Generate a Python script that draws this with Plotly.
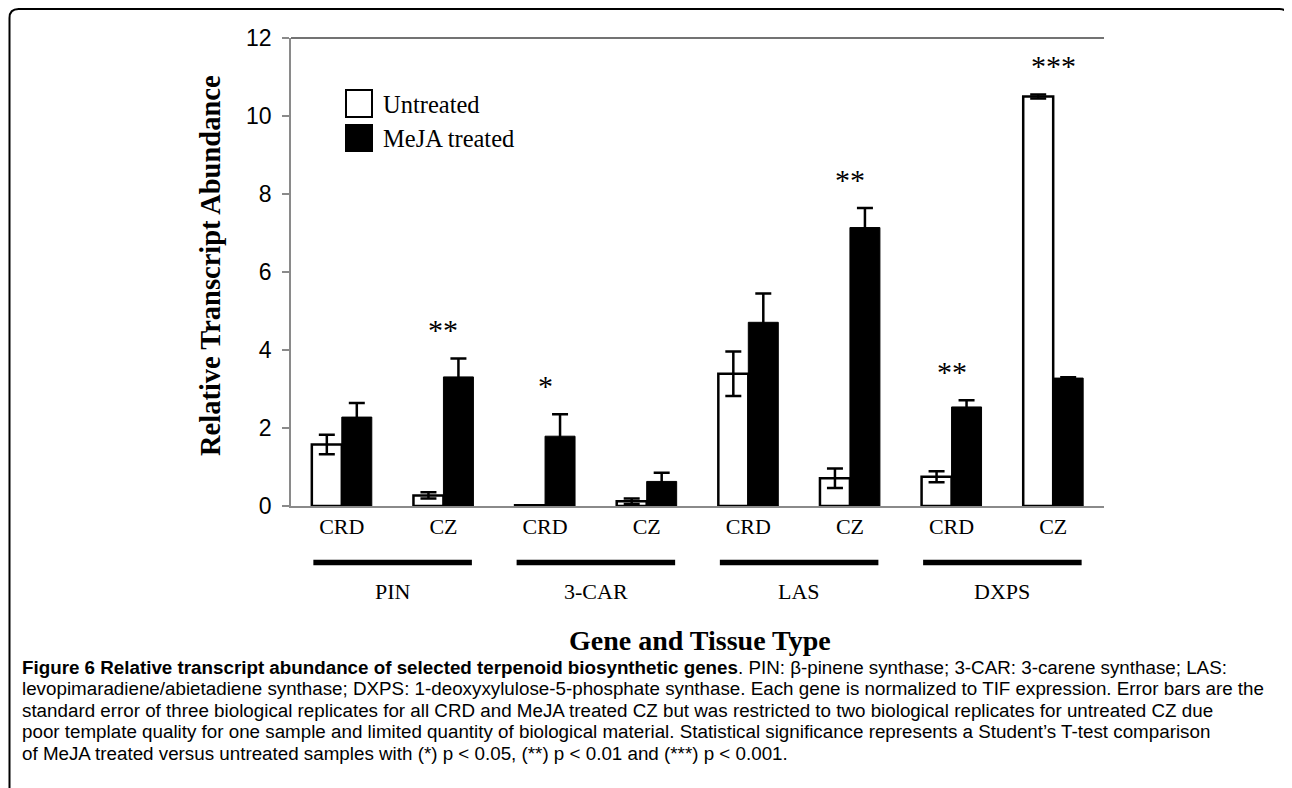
import plotly.graph_objects as go

# ---------------- data ----------------
genes = ["PIN", "3-CAR", "LAS", "DXPS"]
tissues = ["CRD", "CZ"]
untreated = [1.58, 0.27, 0.02, 0.12, 3.39, 0.71, 0.75, 10.50]
untreated_err = [0.25, 0.08, 0.0, 0.07, 0.57, 0.25, 0.14, 0.05]
meja = [2.28, 3.31, 1.79, 0.63, 4.71, 7.14, 2.54, 3.28]
meja_err = [0.36, 0.47, 0.56, 0.22, 0.74, 0.50, 0.17, 0.02]
signif = ["", "**", "*", "", "", "**", "**", "***"]
y_ticks = [0, 2, 4, 6, 8, 10, 12]

categories = [f"{g} {t}" for g in genes for t in tissues]
tick_text = [t for g in genes for t in tissues]

caption_lines = [
    "<b>Figure 6 Relative transcript abundance of selected terpenoid biosynthetic genes</b>. PIN: β-pinene synthase; 3-CAR: 3-carene synthase; LAS:",
    "levopimaradiene/abietadiene synthase; DXPS: 1-deoxyxylulose-5-phosphate synthase. Each gene is normalized to TIF expression. Error bars are the",
    "standard error of three biological replicates for all CRD and MeJA treated CZ but was restricted to two biological replicates for untreated CZ due",
    "poor template quality for one sample and limited quantity of biological material. Statistical significance represents a Student’s T-test comparison",
    "of MeJA treated versus untreated samples with (*) p &lt; 0.05, (**) p &lt; 0.01 and (***) p &lt; 0.001.",
]

# ---------------- layout helpers ----------------
# page offset (browser body margin)
OFF = 8
W, H = 1292, 788
PLOT_LEFT, PLOT_RIGHT, PLOT_TOP, PLOT_BOTTOM = 291, 1104, 38, 506  # page px
L = PLOT_LEFT - OFF
R = W - (PLOT_RIGHT - OFF)
T = PLOT_TOP - OFF
B = H - (PLOT_BOTTOM - OFF)
PW, PH = PLOT_RIGHT - PLOT_LEFT, PLOT_BOTTOM - PLOT_TOP


def px2x(px):
    return (px - PLOT_LEFT) / PW


def py2y(py):
    return (PLOT_BOTTOM - py) / PH


SERIF = "Liberation Serif, Times New Roman, serif"
SANS = "Liberation Sans, Arial, sans-serif"
CAPTION_FONT = "Liberation Sans, Arial, sans-serif"

fig = go.Figure()
fig.add_trace(go.Bar(
    name="Untreated", x=categories, y=untreated,
    marker=dict(color="white", line=dict(color="black", width=2.5)),
    error_y=dict(type="data", array=untreated_err, color="black", thickness=2.5, width=8),
    showlegend=False,
))
fig.add_trace(go.Bar(
    name="MeJA treated", x=categories, y=meja,
    marker=dict(color="black", line=dict(color="black", width=1)),
    error_y=dict(type="data", array=meja_err, color="black", thickness=2.5, width=8),
    showlegend=False,
))

annotations = []
shapes = []

# significance stars
for i, s in enumerate(signif):
    if s:
        top = max(untreated[i] + untreated_err[i], meja[i] + meja_err[i])
        annotations.append(dict(
            x=categories[i], y=top + 0.82, xref="x", yref="y", text=s,
            showarrow=False, yanchor="middle", yshift=-3,
            font=dict(family=SERIF, size=30, color="black"),
        ))

# gene group labels and underlines
for k, g in enumerate(genes):
    c = 2 * k + 0.5
    shapes.append(dict(type="line", xref="x", yref="paper",
                       x0=c - 0.78, x1=c + 0.78, y0=py2y(562.5), y1=py2y(562.5),
                       line=dict(color="black", width=5.5)))
    annotations.append(dict(x=c, y=py2y(591), xref="x", yref="paper", text=g,
                            showarrow=False, yanchor="middle",
                            font=dict(family=SERIF, size=22, color="black")))

# top border of plot area
shapes.append(dict(type="line", xref="paper", yref="paper", x0=0, x1=1, y0=1, y1=1,
                   line=dict(color="#444444", width=1.5)))

# legend (manual, large swatches)
shapes.append(dict(type="rect", xref="paper", yref="paper",
                   x0=px2x(346), x1=px2x(372), y0=py2y(117), y1=py2y(90),
                   fillcolor="white", line=dict(color="black", width=2)))
shapes.append(dict(type="rect", xref="paper", yref="paper",
                   x0=px2x(346), x1=px2x(372), y0=py2y(151), y1=py2y(125),
                   fillcolor="black", line=dict(color="black", width=2)))
annotations.append(dict(x=px2x(381), y=py2y(104), xref="paper", yref="paper",
                        text="Untreated", showarrow=False, xanchor="left", yanchor="middle",
                        font=dict(family=SERIF, size=24.5, color="black")))
annotations.append(dict(x=px2x(381), y=py2y(138), xref="paper", yref="paper",
                        text="MeJA treated", showarrow=False, xanchor="left", yanchor="middle",
                        font=dict(family=SERIF, size=24.5, color="black")))

# axis titles
annotations.append(dict(x=px2x(210), y=py2y(266), xref="paper", yref="paper",
                        text="<b>Relative Transcript Abundance</b>", showarrow=False,
                        textangle=-90, xanchor="center", yanchor="middle",
                        font=dict(family=SERIF, size=28.5, color="black")))
annotations.append(dict(x=px2x(700), y=py2y(641), xref="paper", yref="paper",
                        text="<b>Gene and Tissue Type</b>", showarrow=False,
                        xanchor="center", yanchor="middle",
                        font=dict(family=SERIF, size=28, color="black")))

# caption
for j, line in enumerate(caption_lines):
    annotations.append(dict(x=px2x(20), y=py2y(667 + 21.5 * j), xref="paper", yref="paper",
                            text=line, showarrow=False, xanchor="left", yanchor="middle",
                            font=dict(family=CAPTION_FONT, size=18.8, color="black")))

# outer rounded frame (page coordinates)
r = 9
x0, x1, y0, y1 = 9.5, 1288.5, 9, 820
path = (f"M {px2x(x0)},{py2y(y1)} L {px2x(x0)},{py2y(y0 + r)} "
        f"Q {px2x(x0)},{py2y(y0)} {px2x(x0 + r)},{py2y(y0)} "
        f"L {px2x(x1 - r)},{py2y(y0)} Q {px2x(x1)},{py2y(y0)} {px2x(x1)},{py2y(y0 + r)} "
        f"L {px2x(x1)},{py2y(y1)}")
shapes.append(dict(type="path", xref="paper", yref="paper", path=path,
                   line=dict(color="black", width=2)))

fig.update_layout(
    width=W, height=H,
    margin=dict(l=L, r=R, t=T, b=B),
    paper_bgcolor="white", plot_bgcolor="white",
    barmode="group", bargap=0.41, bargroupgap=0,
    showlegend=False,
    annotations=annotations, shapes=shapes,
    xaxis=dict(
        type="category", tickmode="array", tickvals=categories, ticktext=tick_text,
        showline=True, linecolor="#8a8a8a", linewidth=1.5, ticks="",
        tickfont=dict(family=SERIF, size=22, color="black"),
        showgrid=False, zeroline=False, range=[-0.5, 7.5],
    ),
    yaxis=dict(
        range=[0, 12], tickvals=y_ticks, showline=True, linecolor="#8a8a8a", linewidth=1.5,
        ticks="outside", ticklen=7, tickcolor="#8a8a8a", tickwidth=1.5,
        tickfont=dict(family=SANS, size=23, color="black"), ticklabelstandoff=6,
        showgrid=False, zeroline=False,
    ),
)

fig.write_html("out.html")
